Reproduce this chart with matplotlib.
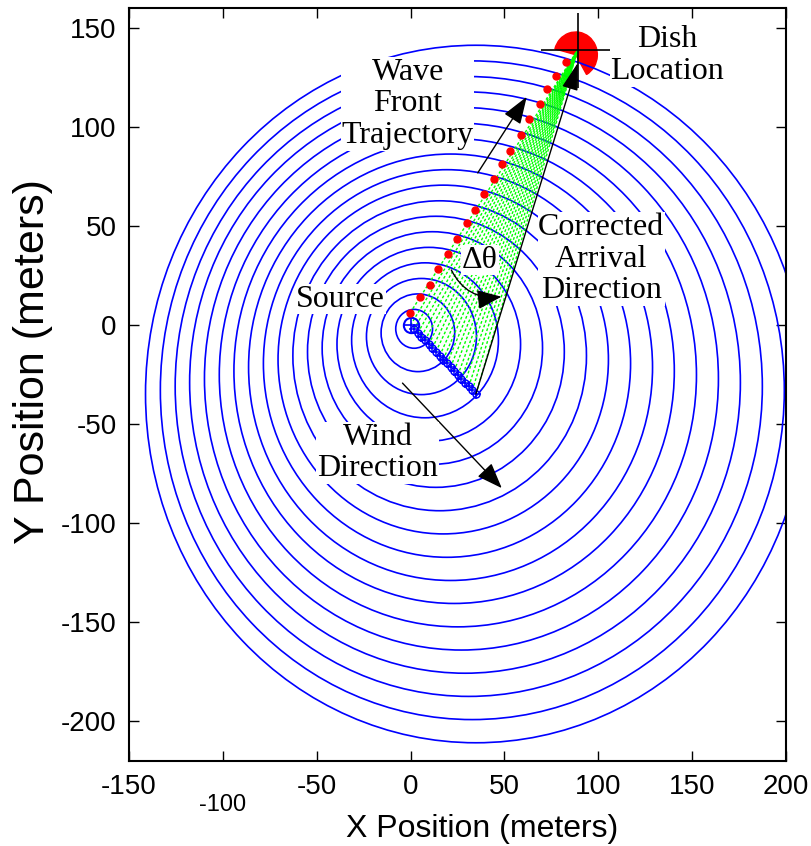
import matplotlib
matplotlib.use('Agg')
import matplotlib.pyplot as plt
from matplotlib.patches import Circle, Wedge
from matplotlib.transforms import ScaledTranslation

# wave fronts: radius (m) and wind-shifted centre of each front
front_radius = [9.8, 19.6, 29.3, 39.1, 48.9, 58.7, 68.4, 78.2, 88.0, 97.8,
                107.6, 117.3, 127.1, 136.9, 146.7, 156.4, 166.2, 176.0]
front_cx = [1.9, 3.9, 5.8, 7.7, 9.7, 11.6, 13.5, 15.5, 17.4, 19.4,
            21.3, 23.2, 25.2, 27.1, 29.0, 31.0, 32.9, 34.8]
front_cy = [-1.9, -3.9, -5.8, -7.7, -9.7, -11.6, -13.5, -15.5, -17.4, -19.4,
            -21.3, -23.2, -25.2, -27.1, -29.0, -31.0, -32.9, -34.8]

# points where each front crosses the straight source-dish path
traj_x = [-0.2, 5.2, 10.1, 14.4, 19.9, 24.7, 29.9, 34.1, 38.9, 44.4,
          48.7, 53.1, 58.6, 63.1, 68.8, 72.9, 77.7, 83.0]
traj_y = [6.2, 14.1, 20.4, 28.4, 35.9, 43.4, 51.7, 58.1, 66.0, 73.6,
          81.3, 88.0, 96.0, 103.9, 111.5, 119.2, 125.8, 133.0]

source_x, source_y = 0.0, 0.0
dish_x, dish_y = 89.1, 138.9
arrival_tip = (89.1, 132.3)

wind_arrow = [(-4.3, -29.3), (48.6, -82.3)]
traj_arrow = [(35.8, 76.8), (61.9, 115.2)]
dtheta_arrow = [(21.7, 27.8), (48.4, 14.3)]

x_ticks = [-150, -100, -50, 0, 50, 100, 150, 200]
y_ticks = [-200, -150, -100, -50, 0, 50, 100, 150]

BLUE = '#0000ff'
GREEN = '#00ff00'
RED = '#ff0000'
SERIF = 'Liberation Serif'
SANS = 'Liberation Sans'


def draw_fronts(ax):
    for r, cx, cy in zip(front_radius, front_cx, front_cy):
        ax.add_patch(Circle((cx, cy), r, fill=False, ec=BLUE, lw=1.2, zorder=2))


def draw_fan(ax):
    # rays from every front centre (and from the path start) to the dish
    xs = [source_x, traj_x[0]] + front_cx
    ys = [source_y, traj_y[0]] + front_cy
    for cx, cy in zip(xs, ys):
        ax.plot([cx, dish_x], [cy, dish_y], color=GREEN, lw=1,
                linestyle=(0, (2, 1.5)), zorder=3)
    ax.plot(front_cx, front_cy, 'o', ms=5, mfc='none', mec=BLUE, mew=1.1, zorder=4)
    ax.plot(front_cx, front_cy, '+', ms=7, color=BLUE, mew=1.1, zorder=4)
    ax.plot(source_x, source_y, 'o', ms=11, mfc='none', mec=BLUE, mew=1.5, zorder=4)
    ax.plot(source_x, source_y, '+', ms=10, color=BLUE, mew=1.2, zorder=4)
    ax.plot(traj_x, traj_y, 'o', ms=5, color=RED, zorder=5)


def draw_dish(ax):
    ax.add_patch(Wedge((dish_x - 1.1, dish_y - 2.5), 11.5, -60, 165,
                       color=RED, zorder=1.5))
    ax.plot(dish_x, dish_y, '+', ms=54, color='black', mew=1.2, zorder=6)


def arrow(ax, start, end, hl=16, hw=6, rad=0.0):
    ax.annotate('', xy=end, xytext=start,
                arrowprops=dict(arrowstyle=f'-|>,head_length={hl},head_width={hw}',
                                mutation_scale=1, color='black', lw=1,
                                shrinkA=0, shrinkB=0,
                                connectionstyle=f'arc3,rad={rad}'),
                zorder=7)


def label(ax, x, y, s):
    ax.text(x, y, s, family=SERIF, fontsize=23, ha='center', va='center',
            linespacing=1.12, zorder=8,
            bbox=dict(fc='white', ec='none', pad=0.5))


fig = plt.figure(figsize=(8.11, 8.46), dpi=100)
ax = fig.add_axes([129 / 811, 1 - 761 / 846, (786 - 129) / 811, (761 - 8) / 846])

draw_fronts(ax)
draw_fan(ax)
draw_dish(ax)

arrow(ax, (front_cx[-1], front_cy[-1]), arrival_tip, hl=17, hw=5)
arrow(ax, traj_arrow[0], traj_arrow[1], hl=17, hw=6)
arrow(ax, wind_arrow[0], wind_arrow[1], hl=16, hw=6)
arrow(ax, dtheta_arrow[0], dtheta_arrow[1], hl=15, hw=6, rad=0.35)

label(ax, 136.7, 135.9, 'Dish\nLocation')
label(ax, -1.6, 111.6, 'Wave\nFront\nTrajectory')
label(ax, -37.2, 13.1, 'Source')
label(ax, 101.6, 33.3, 'Corrected\nArrival\nDirection')
label(ax, -17.6, -64.6, 'Wind\nDirection')
label(ax, 37.0, 32.8, '\u0394\u03b8')

ax.set_xlim(-150, 200)
ax.set_ylim(-220, 160)
ax.set_xticks(x_ticks, labels=[str(v) for v in x_ticks])
ax.set_yticks(y_ticks, labels=[str(v) for v in y_ticks])
ax.tick_params(direction='in', length=7, width=1, top=True, right=True,
               labelsize=20, pad=9)
for t in ax.get_xticklabels() + ax.get_yticklabels():
    t.set_family(SANS)
for s in ax.spines.values():
    s.set_linewidth(1.5)

# the -100 label sits lower than its neighbours
odd = ax.xaxis.get_major_ticks()[1].label1
odd.set_fontsize(17)
odd.set_transform(odd.get_transform() + ScaledTranslation(0, -0.2, fig.dpi_scale_trans))

ax.set_xlabel('X Position (meters)', family=SANS, fontsize=23)
ax.set_ylabel('Y Position (meters)', family=SANS, fontsize=31)
ax.xaxis.set_label_coords(0.537, -0.070)
ax.yaxis.set_label_coords(-0.116, 0.530)

fig.savefig('out.png', dpi=100)
